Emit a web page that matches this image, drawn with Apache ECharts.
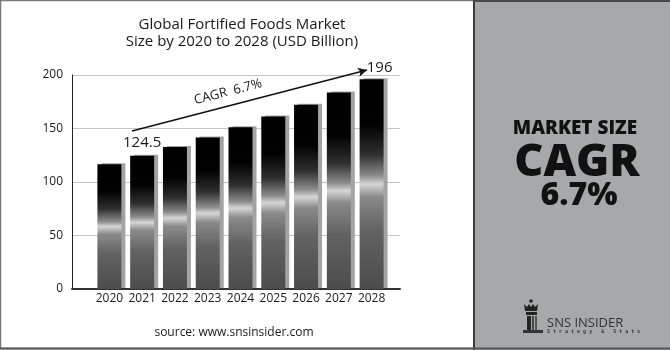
<!DOCTYPE html>
<html>
<head>
<meta charset="UTF-8">
<title>Global Fortified Foods Market</title>
<script src="https://cdn.jsdelivr.net/npm/echarts@6/dist/echarts.min.js"></script>
<style>
  html, body { margin: 0; padding: 0; background: #fff; }
  #chart { width: 670px; height: 350px; }
</style>
</head>
<body>
<div id="chart"></div>
<script>
var years = ['2020', '2021', '2022', '2023', '2024', '2025', '2026', '2027', '2028'];
var marketSize = [116.7, 124.5, 132.8, 141.7, 151.2, 161.3, 172.1, 183.6, 196];
var labeledYears = ['2021', '2028'];
var yTicks = [0, 50, 100, 150, 200];

var chart = echarts.init(document.getElementById('chart'));
var font = '"Open Sans", sans-serif';

// bar fill: black top, light band in the middle, grey bottom
var barFill = new echarts.graphic.LinearGradient(0, 0, 0, 1, [
  { offset: 0, color: '#000' },
  { offset: 0.22, color: '#020202' },
  { offset: 0.36, color: '#303030' },
  { offset: 0.46, color: '#8c8c8c' },
  { offset: 0.5, color: '#d6d6d6' },
  { offset: 0.56, color: '#8a8a8a' },
  { offset: 0.72, color: '#626262' },
  { offset: 1, color: '#4c4c4c' }
]);

var barData = marketSize.map(function (v, i) {
  var item = { value: v };
  if (labeledYears.indexOf(years[i]) >= 0) {
    item.label = { show: true, offset: i === years.length - 1 ? [8, 2] : [0, 0] };
  }
  return item;
});

var option = {
  animation: false,
  title: {
    text: 'Global Fortified Foods Market\nSize by 2020 to 2028 (USD Billion)',
    left: 237, top: 11, textAlign: 'center',
    textStyle: { fontFamily: font, fontSize: 15, fontWeight: 'normal', color: '#1a1a1a', lineHeight: 17 }
  },
  grid: [
    { left: 72, right: 270, top: 75, bottom: 61 },
    { left: 93, width: 295, top: 75, bottom: 61 }
  ],
  xAxis: [
    {
      gridIndex: 0, type: 'value', min: 0, max: 1,
      axisLine: { show: true, lineStyle: { color: '#333', width: 2 } },
      axisTick: { show: false }, axisLabel: { show: false }, splitLine: { show: false }
    },
    {
      gridIndex: 1, type: 'category', data: years,
      axisLine: { show: false }, axisTick: { show: false },
      axisLabel: { interval: 0, fontFamily: font, fontSize: 12, color: '#1a1a1a', margin: 4 }
    }
  ],
  yAxis: [
    {
      gridIndex: 0, type: 'value', min: yTicks[0], max: yTicks[yTicks.length - 1], interval: 50,
      axisLine: { show: true, lineStyle: { color: '#222', width: 1 } },
      axisTick: { show: false },
      axisLabel: { fontFamily: font, fontSize: 12, color: '#1a1a1a', margin: 9 },
      splitLine: { lineStyle: { color: '#c4c4c4', width: 1 } }
    },
    {
      gridIndex: 1, type: 'value', min: yTicks[0], max: yTicks[yTicks.length - 1],
      show: false
    }
  ],
  series: [{
    type: 'bar',
    xAxisIndex: 1, yAxisIndex: 1,
    data: barData,
    barWidth: 24,
    itemStyle: {
      color: barFill,
      shadowColor: '#a3a3a3', shadowBlur: 0, shadowOffsetX: 4, shadowOffsetY: -1
    },
    label: {
      show: false, position: 'top', distance: 6,
      fontFamily: font, fontSize: 15, color: '#1a1a1a'
    },
    markLine: {
      silent: true,
      symbol: ['none', 'arrow'],
      symbolSize: [7, 9],
      label: { show: false },
      lineStyle: { color: '#111', width: 1.5, type: 'solid' },
      data: [[{ x: 132, y: 131 }, { x: 367, y: 70 }]]
    }
  }],
  graphic: [
    // outer frame of the left part
    { type: 'rect', shape: { x: 0.5, y: 0.5, width: 480, height: 348 }, style: { fill: 'none', stroke: '#7a7a7a', lineWidth: 1.5 }, z: -1 },
    // right panel
    { type: 'rect', shape: { x: 474, y: 0, width: 196, height: 350 }, style: { fill: '#a7a8ac' }, z: 1 },
    { type: 'line', shape: { x1: 474, y1: 0, x2: 474, y2: 350 }, style: { stroke: '#3a3a3a', lineWidth: 2 }, z: 2 },
    { type: 'line', shape: { x1: 474, y1: 1, x2: 670, y2: 1 }, style: { stroke: '#4a4a4a', lineWidth: 2 }, z: 2 },
    { type: 'line', shape: { x1: 0, y1: 348.5, x2: 670, y2: 348.5 }, style: { stroke: '#555', lineWidth: 2 }, z: 2 },
    { type: 'text', x: 575, y: 129, z: 3, style: { text: 'MARKET SIZE', align: 'center', verticalAlign: 'middle', font: '800 19px "Open Sans", sans-serif', fill: '#111' } },
    { type: 'text', x: 577, y: 163, z: 3, style: { text: 'CAGR', align: 'center', verticalAlign: 'middle', font: '800 45px "Open Sans", sans-serif', fill: '#111' } },
    { type: 'text', x: 579, y: 196, z: 3, style: { text: '6.7%', align: 'center', verticalAlign: 'middle', font: '800 32px "Open Sans", sans-serif', fill: '#111' } },
    // logo
    { type: 'circle', shape: { cx: 531, cy: 301, r: 1.8 }, style: { fill: '#222' }, z: 3 },
    { type: 'polygon', shape: { points: [[524, 304], [527, 307], [529, 304], [531, 307], [533, 304], [535, 307], [538, 304], [537, 311], [525, 311]] }, style: { fill: '#222' }, z: 3 },
    { type: 'rect', shape: { x: 526, y: 312, width: 11, height: 3 }, style: { fill: '#222' }, z: 3 },
    { type: 'rect', shape: { x: 527, y: 316, width: 4, height: 14 }, style: { fill: '#222' }, z: 3 },
    { type: 'rect', shape: { x: 532, y: 316, width: 2, height: 14 }, style: { fill: '#444' }, z: 3 },
    { type: 'rect', shape: { x: 535, y: 316, width: 2, height: 14 }, style: { fill: '#555' }, z: 3 },
    { type: 'rect', shape: { x: 523, y: 330, width: 20, height: 3 }, style: { fill: '#333' }, z: 3 },
    { type: 'text', x: 547, y: 323, z: 3, style: { text: 'SNS INSIDER', align: 'left', verticalAlign: 'middle', font: '13px "Open Sans", sans-serif', fill: '#333' } },
    { type: 'text', x: 547, y: 332, z: 3, style: { text: 'S t r a t e g y   &   S t a t s', align: 'left', verticalAlign: 'middle', font: 'bold 5px "DejaVu Sans Mono", monospace', fill: '#333' } },
    // CAGR annotation along the arrow
    { type: 'text', x: 228, y: 92, rotation: 14.5 * Math.PI / 180, z: 3, style: { text: 'CAGR  6.7%', align: 'center', verticalAlign: 'middle', font: '13px "Open Sans", sans-serif', fill: '#1a1a1a' } },
    // source line
    { type: 'text', x: 234, y: 333, z: 3, style: { text: 'source: www.snsinsider.com', align: 'center', verticalAlign: 'middle', font: '12px "Open Sans", sans-serif', fill: '#1a1a1a' } }
  ]
};

chart.setOption(option);
</script>
</body>
</html>
